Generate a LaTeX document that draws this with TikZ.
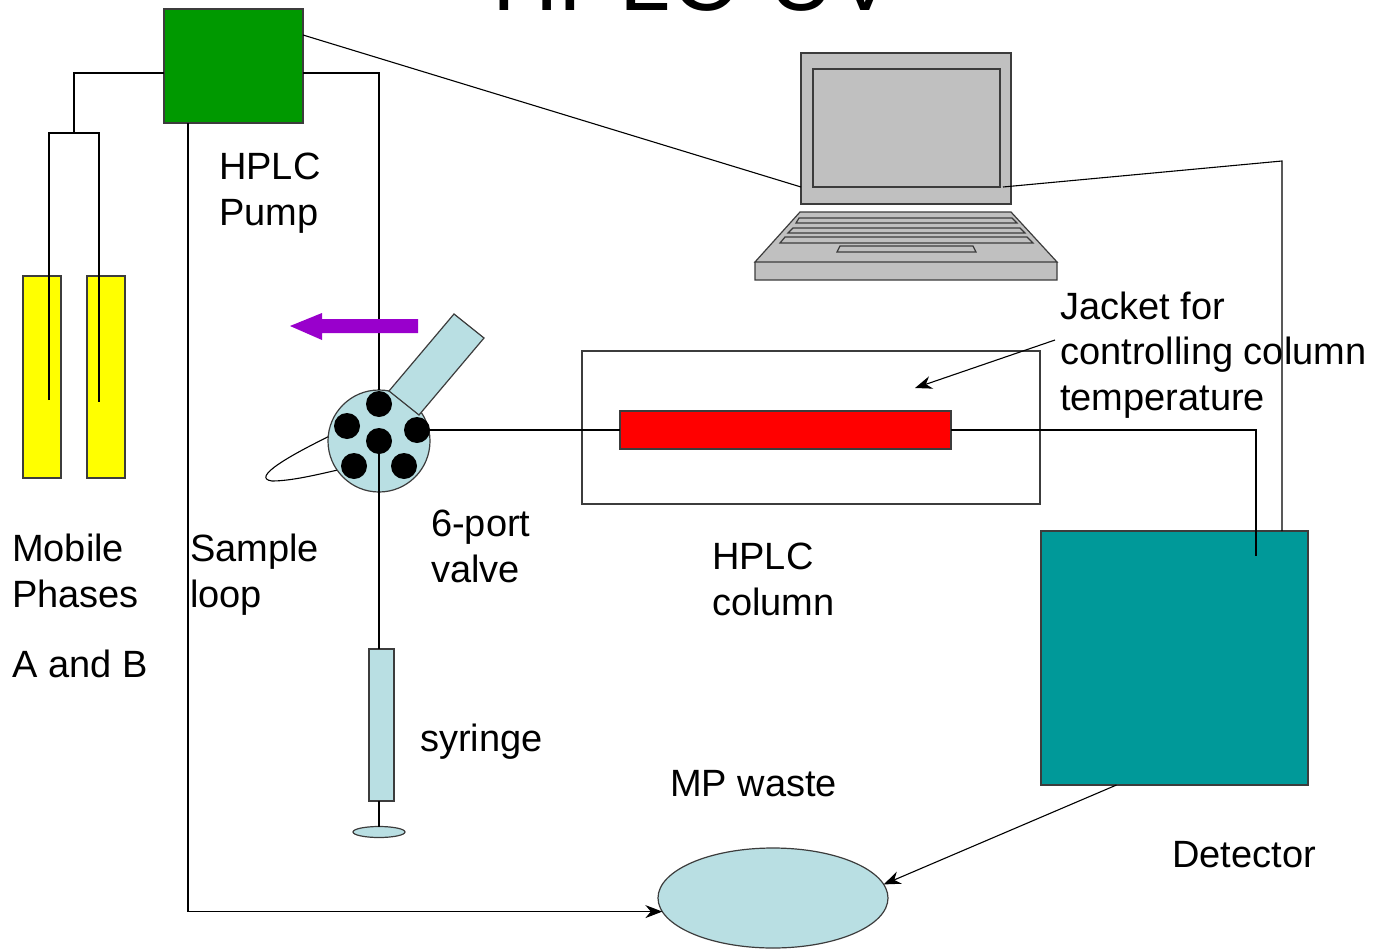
\documentclass[tikz,border=0pt]{standalone}
\usepackage{fontspec}
\setmainfont{Liberation Sans}
\usepackage{xcolor}
\usetikzlibrary{
    arrows.meta,
    shapes.geometric,
    calc,
    positioning
}
\definecolor{pumpgreen}{RGB}{0,153,0}
\definecolor{solvent}{RGB}{255,255,0}
\definecolor{paleblue}{RGB}{185,223,227}
\definecolor{detteal}{RGB}{0,153,153}
\definecolor{laptopgray}{RGB}{192,192,192}
\definecolor{arrowpurple}{RGB}{153,0,204}
\definecolor{edgegray}{RGB}{60,60,60}

\tikzset{
    pipe/.style={draw=black, line width=1.1pt},
    flow/.style={pipe, -{Stealth[length=17pt,width=13pt]}},
    part/.style={draw=edgegray, line width=1.2pt, inner sep=0pt, outer sep=0pt},
    port/.style={circle, fill=black, minimum size=26pt, inner sep=0pt},
    lbl/.style={font=\fontsize{38}{45.5}\selectfont, align=left, inner sep=0pt, anchor=base west}
}

\begin{document}
\begin{tikzpicture}[x=1pt, y=-1pt]
                        \useasboundingbox[fill=white] (0,0) rectangle (1376,950);
                        \node[font=\fontsize{92}{100}\selectfont, inner sep=0pt, anchor=base west] (title) at (492,11) {HPLC-UV};

                        % solvent bottles and pump
                        \node[part, fill=solvent, minimum width=38pt, minimum height=202pt] (bottleA) at (42,377) {};
                        \node[part, fill=solvent, minimum width=38pt, minimum height=202pt] (bottleB) at (106,377) {};
                        \node[part, fill=pumpgreen, minimum width=139pt, minimum height=114pt] (pump) at (233.5,66) {};
                        \coordinate (split) at (74,133);
                        \coordinate (tipA) at (49,400);
                        \coordinate (tipB) at (99,402);
                        \draw[pipe] ([yshift=-7pt]pump.west) -| (split);
                        \draw[pipe] (tipA) -- (tipA |- split) -- (tipB |- split) -- (tipB);

                        % laptop
                        \filldraw[fill=laptopgray, draw=edgegray, line width=1.2pt]
                        (800,212) -- (1011,212) -- (1057,262) -- (755,262) -- cycle
                        (755,262) rectangle (1057,280);
                        \filldraw[fill=laptopgray, draw=edgegray, line width=1.2pt]
                        (799,218) -- (1012,218) -- (1017,223) -- (796,223) -- cycle
                        (793,228) -- (1020,228) -- (1025,233) -- (788,233) -- cycle
                        (785,237) -- (1027,237) -- (1033,243) -- (780,243) -- cycle
                        (840,246) -- (973,246) -- (976,252) -- (837,252) -- cycle;
                        \node[part, fill=laptopgray, minimum width=210pt, minimum height=151pt] (screen) at (906,128.5) {};
                        \node[part, minimum width=187pt, minimum height=118pt] (display) at (906.5,128) {};

                        % column, jacket and detector
                        \node[part, minimum width=458pt, minimum height=153pt] (jacket) at (811,427.5) {};
                        \node[part, fill=red, minimum width=331pt, minimum height=38pt] (column) at (785.5,430) {};
                        \node[part, fill=detteal, minimum width=267pt, minimum height=254pt] (detector) at (1174.5,658) {};
                        \node[part, ellipse, fill=paleblue, minimum width=230pt, minimum height=100pt] (waste) at (773,898) {};
                        \coordinate (probe) at (1256,556);
                        \coordinate (cable) at (1282,161);
                        \draw[pipe] (column.east) -| (probe);
                        \draw[pipe] ([yshift=31pt]pump.east) -- ([yshift=17pt]screen.south west);
                        \draw[pipe] ([xshift=3pt]display.south east) -- (cable) -- (cable |- detector.north);

                        % syringe
                        \node[part, fill=paleblue, minimum width=25pt, minimum height=152pt] (syringe) at (381.5,725) {};
                        \node[part, ellipse, fill=paleblue, minimum width=52pt, minimum height=11pt] (plunger) at (379,832) {};
                        \draw[pipe] (syringe.south -| plunger) -- (plunger.north);

                        % injection valve with sample loop
                        \draw[pipe] (338,432) .. controls (290,455) and (250,478) .. (272,481)
                                    .. controls (292,481) and (320,474) .. (342,469);
                        \node[part, circle, fill=paleblue, minimum size=102pt] (valve) at (379,441) {};
                        \filldraw[fill=paleblue, draw=edgegray, line width=1.2pt]
                        (389,391) -- (454,314) -- (484,338) -- (419,415) -- cycle;
                        \draw[pipe] (valve.center) -- (valve.center |- syringe.north);
                        \draw[pipe] ([yshift=-7pt]pump.east) -| (valve.north);
                        \node[port] (portN) at (379,404) {};
                        \node[port] (portW) at (347,426) {};
                        \node[port] (portE) at (417,430) {};
                        \node[port] (portC) at (379,441) {};
                        \node[port] (portSW) at (354,466) {};
                        \node[port] (portSE) at (404,466) {};
                        \draw[pipe] (portE) -- (column.west);
                        \fill[arrowpurple] (418,319) -- (322,319) -- (322,313) -- (290,326)
                                           -- (322,340) -- (322,333) -- (418,333) -- cycle;

                        % waste lines
                        \draw[flow] ([xshift=24pt]pump.south west) |- (waste.187);
                        \draw[flow] ([xshift=-58pt]detector.south) -- (waste.7);
                        \coordinate (jktail) at (1055,340);
                        \coordinate (jkhead) at (915,388);
                        \draw[flow] (jktail) -- (jkhead);

                        % labels (base = last line)
                        \node[lbl] (pumplbl) at (219,225) {HPLC\\Pump};
                        \node[lbl] (mobilelbl) at (12,607) {Mobile\\Phases};
                        \node[lbl] (ablbl) at (12,677) {A and B};
                        \node[lbl] (looplbl) at (190,607) {Sample\\loop};
                        \node[lbl] (valvelbl) at (431,582) {6-port\\valve};
                        \node[lbl] (columnlbl) at (712,615) {HPLC\\column};
                        \node[lbl] (syringelbl) at (420,751) {syringe};
                        \node[lbl] (wastelbl) at (670,796) {MP waste};
                        \node[lbl] (detectorlbl) at (1172,867) {Detector};
                        \node[lbl] (jacketlbl) at (1060,410) {Jacket for\\controlling column\\temperature};
                    \end{tikzpicture}
\end{document}
